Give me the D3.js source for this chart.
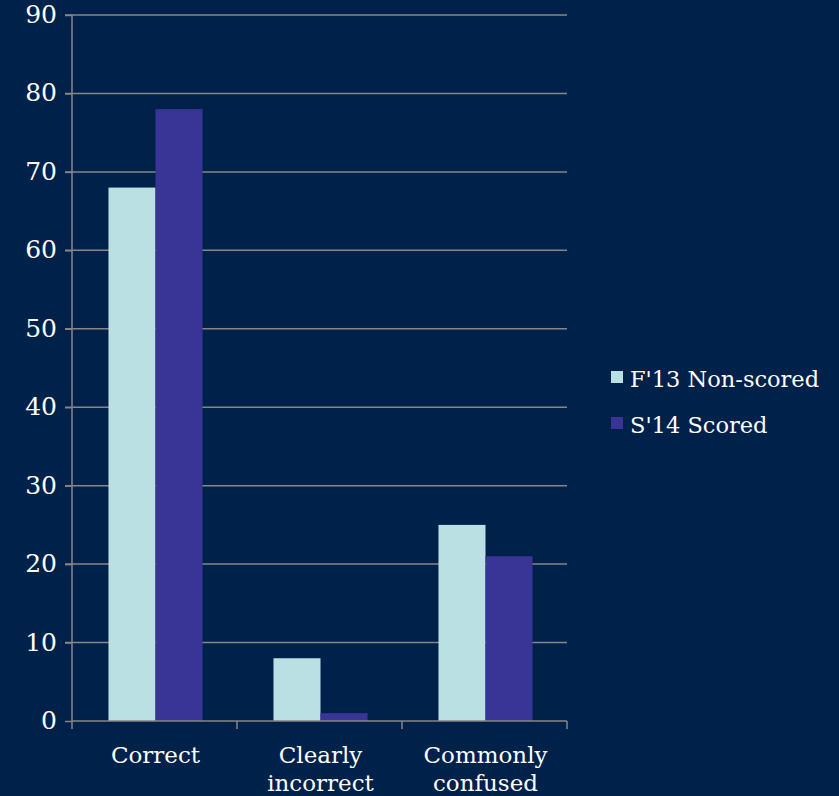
<!DOCTYPE html>
<html><head><meta charset="utf-8">
<script src="https://cdn.jsdelivr.net/npm/d3@7"></script>
<style>html,body{margin:0;padding:0;background:#00214A;}svg{display:block;}</style>
</head><body>
<script>
const categories = [["Correct"], ["Clearly", "incorrect"], ["Commonly", "confused"]];
const seriesNames = ["F'13 Non-scored", "S'14 Scored"];
const f13 = [68, 8, 25];
const s14 = [78, 1, 21];
const yTicks = [0, 10, 20, 30, 40, 50, 60, 70, 80, 90];
const colors = ["#BAE0E3", "#393597"];

(function () {
const W = 839, H = 796;
const svg = d3.select("body").append("svg").attr("width", W).attr("height", H);
svg.append("rect").attr("width", W).attr("height", H).attr("fill", "#00214A");
const font = "'DejaVu Serif', Georgia, serif";
const mLeft = 72, mRight = 567, mTop = 15, mBottom = 721;

const x = d3.scaleBand().domain(d3.range(categories.length)).range([mLeft, mRight]).paddingInner(0.43).paddingOuter(0.215);
const x1 = d3.scaleBand().domain([0, 1]).range([0, x.bandwidth()]);
const y = d3.scaleLinear().domain([0, 90]).range([mBottom, mTop]);

// gridlines
svg.append("g").selectAll("line").data(yTicks.filter(d => d > 0)).join("line")
  .attr("x1", mLeft - 7).attr("x2", mRight).attr("y1", d => y(d)).attr("y2", d => y(d))
  .attr("stroke", "#868686").attr("stroke-width", 1.5);

// bars
const series = [f13, s14];
series.forEach((vals, si) => {
  svg.append("g").selectAll("rect").data(vals).join("rect")
    .attr("x", (d, i) => x(i) + x1(si) + 1)
    .attr("width", x1.bandwidth())
    .attr("y", d => y(d))
    .attr("height", d => y(0) - y(d))
    .attr("fill", colors[si]);
});

// y axis
const yAxis = svg.append("g").attr("transform", `translate(${mLeft},0)`)
  .call(d3.axisLeft(y).tickValues(yTicks).tickSize(7).tickPadding(8));
yAxis.select(".domain").attr("stroke", "#868686").attr("stroke-width", 1.5).attr("d", `M0,${mTop}V${mBottom}`);
yAxis.selectAll(".tick line").attr("stroke", "#868686").attr("stroke-width", 1.5);
yAxis.selectAll("text").attr("fill", "#fff").attr("font-family", font).attr("font-size", 25).attr("dy", "0.3em");

// x axis
const xg = svg.append("g");
xg.append("line").attr("x1", mLeft).attr("x2", mRight).attr("y1", mBottom).attr("y2", mBottom)
  .attr("stroke", "#868686").attr("stroke-width", 1.5);
const bounds = d3.range(categories.length + 1).map(i => mLeft + i * x.step());
xg.selectAll(".xt").data(bounds).join("line")
  .attr("x1", d => d).attr("x2", d => d).attr("y1", mBottom).attr("y2", mBottom + 8)
  .attr("stroke", "#868686").attr("stroke-width", 1.5);
categories.forEach((lines, i) => {
  const cx = x(i) + x.bandwidth() / 2 + 1;
  const t = xg.append("text").attr("text-anchor", "middle").attr("fill", "#fff")
    .attr("font-family", font).attr("font-size", 23)
    .attr("x", cx).attr("y", 763);
  lines.forEach((l, j) => t.append("tspan").attr("x", cx).attr("dy", j ? 28 : 0).text(l));
});

// legend
const lg = svg.append("g");
seriesNames.forEach((n, i) => {
  lg.append("rect").attr("x", 611).attr("y", 371 + i * 46).attr("width", 12).attr("height", 12).attr("fill", colors[i]);
  lg.append("text").attr("x", 630).attr("y", 387 + i * 46).attr("fill", "#fff")
    .attr("font-family", font).attr("font-size", 22.5).text(n);
});
})();
</script>
</body></html>
